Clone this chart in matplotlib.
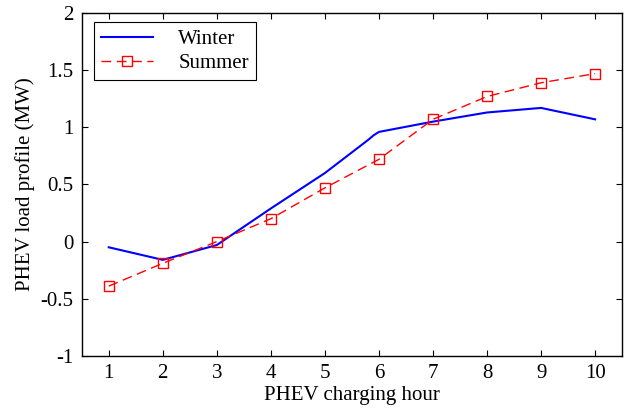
import numpy as np
import matplotlib.pyplot as plt
from matplotlib import rc
rc('font', family='serif')
rc('font', serif=['Liberation Serif', 'DejaVu Serif'])
rc('font', size=15)

# data
hours = [1, 2, 3, 4, 5, 6, 7, 8, 9, 10]
winter_x = [1, 2, 3, 4, 5, 5.8, 5.9, 6, 7, 8, 9, 10]
winter = [-0.05, -0.16, -0.03, 0.29, 0.60, 0.89, 0.93, 0.96, 1.05, 1.13, 1.17, 1.07]
summer = [-0.39, -0.19, 0.0, 0.20, 0.47, 0.72, 1.07, 1.27, 1.39, 1.47]
yticks = [-1, -0.5, 0, 0.5, 1, 1.5, 2]
ytick_labels = ['-1', '-0.5', '0', '0.5', '1', '1.5', '2']

fig = plt.figure(figsize=(6.24, 4.09), dpi=100)
ax = fig.add_axes([0.131, 0.130, 0.866, 0.838])

ax.plot(winter_x, winter, color='#0000ff', lw=1.5, label='Winter')
ax.plot(hours, summer, color='#ff0000', lw=1.0, ls=(0, (7, 4)), marker='s',
        markersize=7, markerfacecolor='none', markeredgecolor='#ff0000',
        markeredgewidth=1.0, label='Summer')

ax.set_xlim(0.5, 10.5)
ax.set_ylim(-1, 2)
ax.set_xticks(hours)
ax.set_yticks(yticks)
ax.set_yticklabels(ytick_labels)
ax.tick_params(direction='in', top=True, right=True, length=4, width=0.8, pad=6)
for sp in ax.spines.values():
    sp.set_linewidth(1.0)

ax.set_xlabel('PHEV charging hour', labelpad=2)
ax.set_ylabel('PHEV load profile (MW)', labelpad=4)

leg = ax.legend(loc='upper left', bbox_to_anchor=(0.015, 0.985), fancybox=False,
                edgecolor='k', framealpha=1, handlelength=2.5, borderpad=0.35,
                labelspacing=0.2, handletextpad=1.2, borderaxespad=0.2)
leg.get_frame().set_linewidth(0.8)

plt.savefig('out.png', dpi=100)
